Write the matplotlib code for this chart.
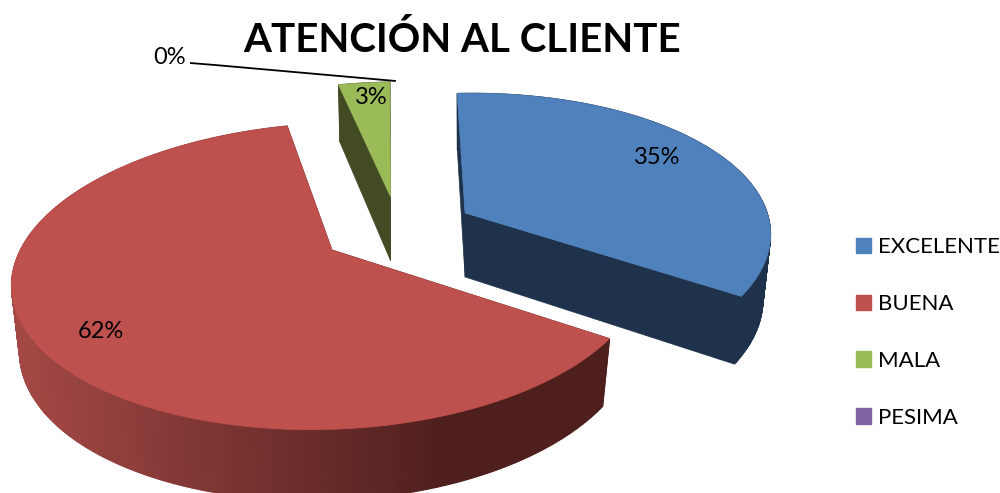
import numpy as np
import matplotlib
matplotlib.use("Agg")
import matplotlib.pyplot as plt
from matplotlib.patches import Polygon, Patch

plt.rcParams["font.family"] = ["Lato", "DejaVu Sans"]

# dati
categorie = ["EXCELENTE", "BUENA", "MALA", "PESIMA"]
valori = [35, 62, 3, 0]
titolo = "ATENCIÓN AL CLIENTE"

col_top = ["#4F81BD", "#BE504D", "#9BBB59", "#8064A2"]
col_side = ["#1E324B", "#4E1F1D", "#424B23", "#3A2D4B"]

# parametri della proiezione (pixel del riferimento)
START = 93.3
CX, CY = 396.5, 230.1
RX, RY = 318, 147.5
PERSP = 0.171
EXPL_X, EXPL_Y = 79.4, 34
NUDGE_X = [0, 0, 6, 0]
SHEAR = [7, 21, 15, 15]
SCALA_X = [0.95, 0.98, 1, 1]
SCALA_Y = [0.95, 1.01, 0.91, 1]


def punto(ang, r, c, i, basso=False):
    a = np.radians(ang)
    x, y = r * np.cos(a), r * np.sin(a)
    s = 1 / (1 + PERSP * y)
    px = SCALA_X[i] * RX * x * s + SHEAR[i] * y
    py = -SCALA_Y[i] * RY * y * s
    if basso:
        return c[0] + 0.975 * px, c[1] + py + 64 - 7 * y
    return c[0] + px, c[1] + py


fig = plt.figure(figsize=(10, 4.93), dpi=100)
ax = fig.add_axes([0, 0, 1, 1])
ax.set_xlim(0, 1000)
ax.set_ylim(493, 0)
ax.axis("off")

# angoli delle fette, in senso orario
fette = []
ang = START
for i, v in enumerate(valori):
    a0 = ang
    a1 = ang - v / sum(valori) * 360
    mid = np.radians((a0 + a1) / 2)
    c = (CX + EXPL_X * np.cos(mid) + NUDGE_X[i], CY - EXPL_Y * np.sin(mid))
    fette.append((i, a0, a1, c))
    ang = a1

# ordine: prima le fette dietro
for i, a0, a1, c in [fette[2], fette[0], fette[1]]:
    angs = np.linspace(a0, a1, max(int(abs(a1 - a0) * 2), 8))
    # facce radiali
    for a in (a0, a1):
        poly = [c, punto(a, 1, c, i), punto(a, 1, c, i, True), punto(a, 0, c, i, True)]
        ax.add_patch(Polygon(poly, fc=col_side[i], ec=col_side[i], lw=0.5))
    # parete esterna, sfumata per la fetta rossa
    for a, b in zip(angs[:-1], angs[1:]):
        poly = [punto(a, 1, c, i), punto(b, 1, c, i), punto(b, 1, c, i, True), punto(a, 1, c, i, True)]
        colore = col_side[i]
        if i == 1:
            t = np.clip((poly[0][0] - 20) / 430, 0, 1)
            colore = (np.array([163, 72, 69]) * (1 - t) + np.array([78, 31, 29]) * t) / 255
        ax.add_patch(Polygon(poly, fc=colore, ec=colore, lw=0.8))
    # faccia superiore
    poly = [c] + [punto(a, 1, c, i) for a in angs]
    ax.add_patch(Polygon(poly, fc=col_top[i], ec=col_top[i], lw=0.5))

# etichette percentuali
pos_label = [(657, 157), (101, 332), (371, 97), (170, 57)]
for v, (x, y) in zip(valori, pos_label):
    ax.text(x, y, f"{v}%", fontsize=17, color="black", ha="center", va="center")

# linea guida dello 0%
fine = punto(fette[3][1], 1, fette[2][3], 2)
ax.plot([190, 215, fine[0] + 6], [63, 65, fine[1] - 1], color="black", lw=1.3, solid_capstyle="butt")

ax.text(462, 40, titolo, fontsize=29, fontweight="bold", color="black", ha="center", va="center")

handles = [Patch(fc=c, ec=c) for c in col_top]
ax.legend(
    handles, categorie,
    loc="upper left",
    bbox_to_anchor=(0.856, 0.519),
    frameon=False,
    fontsize=16,
    handlelength=0.68,
    handleheight=0.68,
    handletextpad=0.3,
    borderpad=0,
    borderaxespad=0,
    labelspacing=1.66,
)

fig.savefig("out.png", dpi=100)
